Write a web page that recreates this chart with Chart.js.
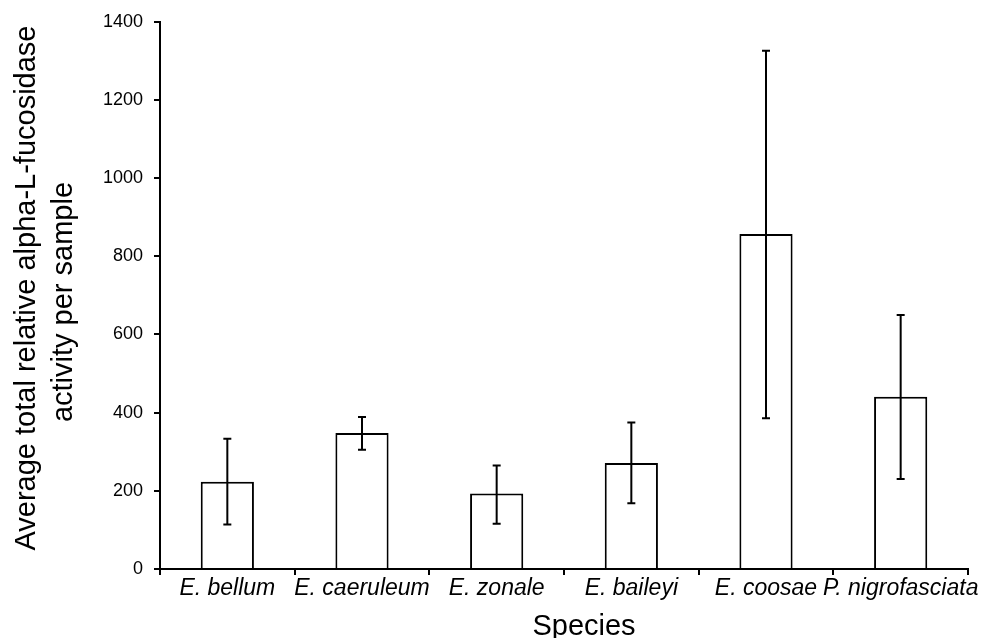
<!DOCTYPE html>
<html>
<head>
<meta charset="utf-8">
<script src="https://cdn.jsdelivr.net/npm/chart.js@4/dist/chart.umd.min.js"></script>
<style>
html,body{margin:0;padding:0;background:#fff;}
#wrap{width:988px;height:638px;position:relative;}
</style>
</head>
<body>
<div id="wrap"><canvas id="c" width="988" height="638"></canvas></div>
<script>
const categories = ["E. bellum", "E. caeruleum", "E. zonale", "E. baileyi", "E. coosae", "P. nigrofasciata"];
const means = [223, 348, 193, 271, 857, 441];
const errLow = [114, 305, 116, 168, 386, 230];
const errHigh = [333, 389, 265, 375, 1326, 650];
const yTitleLines = ["Average total relative alpha-L-fucosidase", "activity per sample"];
const xTitle = "Species";

const FONT = "'Liberation Sans', Arial, Helvetica, sans-serif";

const errorBars = {
  id: 'errorBars',
  afterDatasetsDraw(chart) {
    const ctx = chart.ctx;
    const meta = chart.getDatasetMeta(0);
    const y = chart.scales.y;
    ctx.save();
    ctx.strokeStyle = '#000';
    ctx.lineWidth = 2;
    meta.data.forEach((bar, i) => {
      const x = bar.x;
      const yl = y.getPixelForValue(errLow[i]);
      const yh = y.getPixelForValue(errHigh[i]);
      ctx.beginPath();
      ctx.moveTo(x, yl); ctx.lineTo(x, yh);
      ctx.moveTo(x - 4, yl); ctx.lineTo(x + 4, yl);
      ctx.moveTo(x - 4, yh); ctx.lineTo(x + 4, yh);
      ctx.stroke();
    });
    ctx.restore();
  }
};

const axisTitles = {
  id: 'axisTitles',
  afterDraw(chart) {
    const ctx = chart.ctx;
    ctx.save();
    ctx.fillStyle = '#000';
    ctx.font = "29px " + FONT;
    ctx.textAlign = 'center';
    ctx.textBaseline = 'alphabetic';
    ctx.translate(35, 0);
    ctx.rotate(-Math.PI / 2);
    ctx.fillText(yTitleLines[0], -288, 0);
    ctx.fillText(yTitleLines[1], -302, 37);
    ctx.restore();
    ctx.save();
    ctx.fillStyle = '#000';
    ctx.font = "29px " + FONT;
    ctx.textAlign = 'center';
    ctx.textBaseline = 'alphabetic';
    ctx.fillText(xTitle, 584, 635);
    ctx.restore();
  }
};

new Chart(document.getElementById('c'), {
  type: 'bar',
  data: {
    labels: categories,
    datasets: [{
      data: means,
      backgroundColor: '#ffffff',
      borderColor: '#000000',
      borderWidth: 2,
      borderSkipped: 'bottom',
      barPercentage: 0.395,
      categoryPercentage: 1.0
    }]
  },
  options: {
    responsive: false,
    animation: false,
    devicePixelRatio: 1,
    layout: { padding: { left: 0, right: 20, top: 20, bottom: 0 } },
    plugins: { legend: { display: false }, tooltip: { enabled: false } },
    scales: {
      x: {
        offset: true,
        grid: { offset: true, drawOnChartArea: false, color: '#000', lineWidth: 2, tickLength: 6 },
        border: { color: '#000', width: 2 },
        ticks: { color: '#000', autoSkip: false, maxRotation: 0, minRotation: 0, padding: 0,
                 font: { family: FONT, size: 23, style: 'italic' } },
        afterFit(scale) { scale.height = 69; }
      },
      y: {
        min: 0, max: 1400,
        ticks: { stepSize: 200, color: '#000', padding: 11, font: { family: FONT, size: 18 },
                 callback: (v) => String(v) },
        grid: { drawOnChartArea: false, color: '#000', lineWidth: 2, tickLength: 6 },
        border: { color: '#000', width: 2 },
        afterFit(scale) { scale.width = 160; }
      }
    }
  },
  plugins: [errorBars, axisTitles]
});
</script>
</body>
</html>
